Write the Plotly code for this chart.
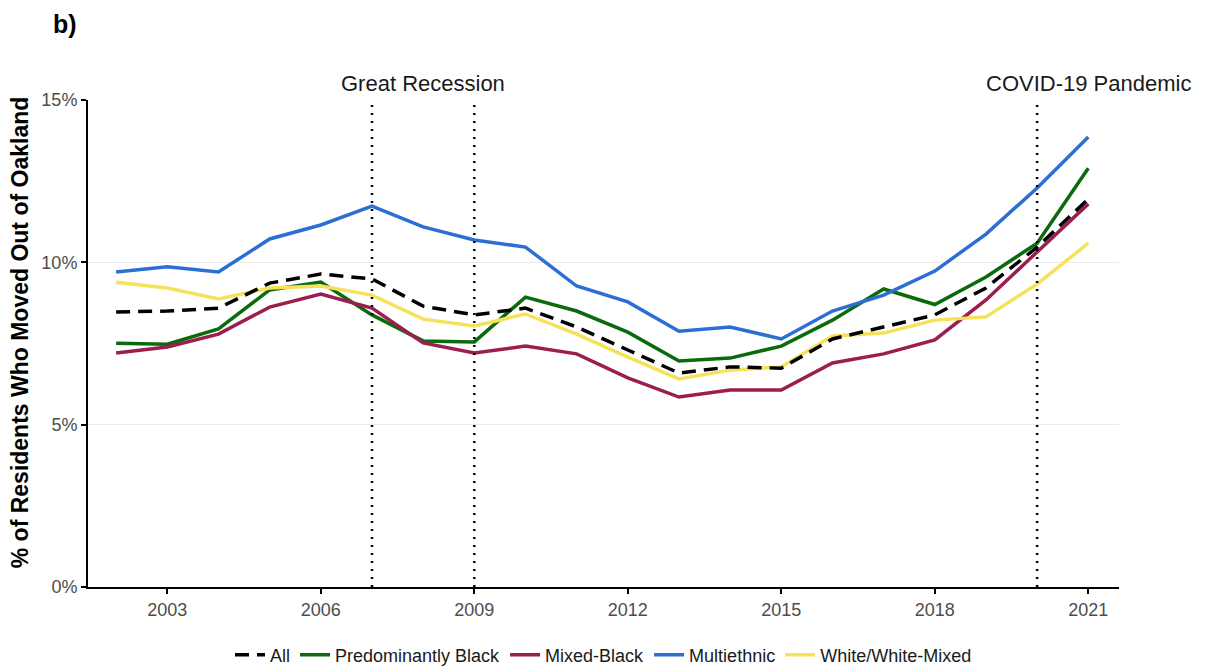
import plotly.graph_objects as go

years = list(range(2002, 2022))

all_pct = [8.47, 8.50, 8.59, 9.36, 9.64, 9.49, 8.65, 8.38, 8.59, 8.01, 7.30, 6.59, 6.78, 6.74, 7.64, 8.01, 8.38, 9.21, 10.47, 11.95]
pred_black = [7.51, 7.48, 7.95, 9.15, 9.39, 8.38, 7.58, 7.55, 8.93, 8.50, 7.85, 6.96, 7.05, 7.42, 8.22, 9.18, 8.70, 9.55, 10.59, 12.90]
mixed_black = [7.21, 7.39, 7.79, 8.62, 9.02, 8.59, 7.52, 7.21, 7.42, 7.18, 6.44, 5.85, 6.07, 6.07, 6.90, 7.18, 7.61, 8.84, 10.32, 11.80]
multiethnic = [9.70, 9.86, 9.70, 10.72, 11.15, 11.73, 11.09, 10.69, 10.47, 9.27, 8.78, 7.88, 8.01, 7.64, 8.50, 8.99, 9.73, 10.87, 12.29, 13.86]
white_mixed = [9.39, 9.21, 8.87, 9.21, 9.27, 8.99, 8.25, 8.04, 8.41, 7.79, 7.08, 6.41, 6.68, 6.78, 7.73, 7.82, 8.22, 8.32, 9.33, 10.59]

event_years = [2007, 2009, 2020]
event_labels = ["Great Recession", "COVID-19 Pandemic"]
event_label_x = [2008, 2021]

x_ticks = [2003, 2006, 2009, 2012, 2015, 2018, 2021]
y_ticks = [0, 5, 10, 15]
y_tick_text = ["0%", "5%", "10%", "15%"]

FONT = "Liberation Sans, Arial, sans-serif"

series = [
    ("All", all_pct, "#000000", "14px,8px"),
    ("Predominantly Black", pred_black, "#0b6a0b", "solid"),
    ("Mixed-Black", mixed_black, "#9c1d4f", "solid"),
    ("Multiethnic", multiethnic, "#2b6fd5", "solid"),
    ("White/White-Mixed", white_mixed, "#f6e25a", "solid"),
]
ranks = {name: i + 1 for i, (name, _, _, _) in enumerate(series)}

fig = go.Figure()
# colored series first, "All" drawn last (on top)
for name, vals, color, dash in series[1:] + series[:1]:
    fig.add_trace(go.Scatter(
        x=years, y=vals, mode="lines", name=name,
        line=dict(color=color, width=3.5, dash=dash),
        legendrank=ranks[name],
    ))

for ey in event_years:
    fig.add_shape(type="line", xref="x", yref="y", x0=ey, x1=ey, y0=0, y1=15,
                  line=dict(color="black", width=2.5, dash="2px,6px"), layer="above")

for lbl, lx in zip(event_labels, event_label_x):
    fig.add_annotation(x=lx, xref="x", y=1.033, yref="paper", text=lbl, showarrow=False,
                       font=dict(family=FONT, size=22, color="#1a1a1a"),
                       xanchor="center", yanchor="middle")

fig.add_annotation(text="<b>b)</b>", showarrow=False, xref="paper", yref="paper",
                   x=-0.022, y=1.156, xanchor="center", yanchor="middle",
                   font=dict(family=FONT, size=25, color="#000000"))

# y-axis title placed as rotated annotation
fig.add_annotation(text="<b>% of Residents Who Moved Out of Oakland</b>", textangle=-90,
                   showarrow=False, xref="paper", yref="paper",
                   x=-0.066, y=0.523, xanchor="center", yanchor="middle",
                   font=dict(family=FONT, size=23, color="#000000"))

fig.update_layout(
    width=1207, height=666,
    margin=dict(l=88, r=88, t=100, b=79),
    plot_bgcolor="white", paper_bgcolor="white",
    font=dict(family=FONT, color="#000000"),
    showlegend=True,
    legend=dict(orientation="h", x=0.5, xanchor="center",
                yref="container", y=0.0165, yanchor="middle",
                font=dict(family=FONT, size=18, color="#1a1a1a"),
                traceorder="normal"),
    xaxis=dict(range=[2001.45, 2021.6], tickvals=x_ticks, showgrid=False, zeroline=False,
               showline=True, linecolor="black", linewidth=2,
               ticks="outside", ticklen=5, tickcolor="black", tickwidth=1.5,
               tickfont=dict(family=FONT, size=18, color="#4d4d4d")),
    yaxis=dict(range=[0, 15], tickvals=y_ticks, ticktext=y_tick_text,
               showgrid=True, gridcolor="#ebebeb", gridwidth=1, zeroline=False,
               showline=True, linecolor="black", linewidth=2,
               ticks="outside", ticklen=5, tickcolor="black", tickwidth=1.5,
               tickfont=dict(family=FONT, size=18, color="#4d4d4d")),
)

fig.write_html("out.html")
